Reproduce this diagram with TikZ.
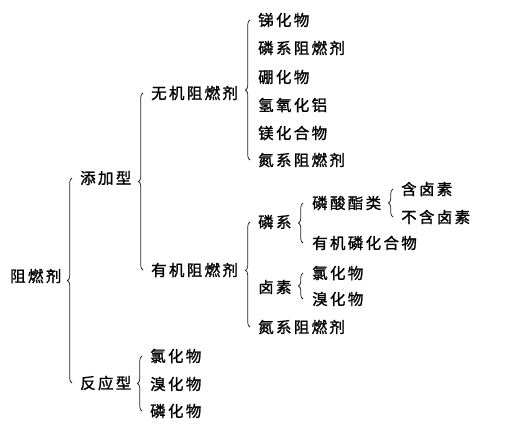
\documentclass[tikz,border=0pt]{standalone}
\usepackage{fontspec}
\setmainfont{Noto Sans CJK SC}[LetterSpace=15,FakeBold=1.2]
\usetikzlibrary{decorations.pathreplacing}

\begin{document}
\begin{tikzpicture}[x=1pt,y=-1pt,
        txt/.style={anchor=west,inner sep=0pt,font=\fontsize{15.5}{18}\selectfont},
        brc/.style={decorate,decoration={brace,amplitude=4.5pt},draw=black!85,line width=0.75pt}]
        \useasboundingbox (0,0) rectangle (513,426);

        \node[txt] (root) at (10,276) {阻燃剂};

        \node[txt] (add) at (80,178) {添加型};
        \node[txt] (react) at (80,383) {反应型};

        \node[txt] (inorg) at (151,93) {无机阻燃剂};
        \node[txt] (org) at (151,270) {有机阻燃剂};

        \node[txt] (in1) at (258,20) {锑化物};
        \node[txt] (in2) at (258,48) {磷系阻燃剂};
        \node[txt] (in3) at (258,77) {硼化物};
        \node[txt] (in4) at (258,105) {氢氧化铝};
        \node[txt] (in5) at (258,133) {镁化合物};
        \node[txt] (in6) at (258,160) {氮系阻燃剂};

        \node[txt] (p) at (258,222) {磷系};
        \node[txt] (hal) at (258,287) {卤素};
        \node[txt] (n) at (258,327) {氮系阻燃剂};

        \node[txt] (pest) at (312,203) {磷酸酯类};
        \node[txt] (porg) at (312,243) {有机磷化合物};
        \node[txt] (hcl) at (312,273) {氯化物};
        \node[txt] (hbr) at (312,299) {溴化物};

        \node[txt] (wx) at (401,189) {含卤素};
        \node[txt] (wox) at (401,217) {不含卤素};

        \node[txt] (r1) at (150,356) {氯化物};
        \node[txt] (r2) at (150,384) {溴化物};
        \node[txt] (r3) at (150,411) {磷化物};

        % braces, drawn upwards so the tip points left
        \draw[brc] ([xshift=-8pt]react.west) -- ([xshift=-8pt]add.west);
        \draw[brc] ([xshift=-8pt]org.west) -- ([xshift=-8pt]inorg.west);
        \draw[brc] ([xshift=-8pt]in6.west) -- ([xshift=-8pt]in1.west);
        \draw[brc,decoration={aspect=0.54}] ([xshift=-8pt]n.west) -- ([xshift=-8pt]p.west);
        \draw[brc] ([xshift=-9pt]porg.west) -- ([xshift=-9pt]pest.west);
        \draw[brc] ([xshift=-9pt]hbr.west) -- ([xshift=-9pt]hcl.west);
        \draw[brc] ([xshift=-8pt]wox.west) -- ([xshift=-8pt]wx.west);
        \draw[brc] ([xshift=-8pt]r3.west) -- ([xshift=-8pt]r1.west);
      \end{tikzpicture}
\end{document}
